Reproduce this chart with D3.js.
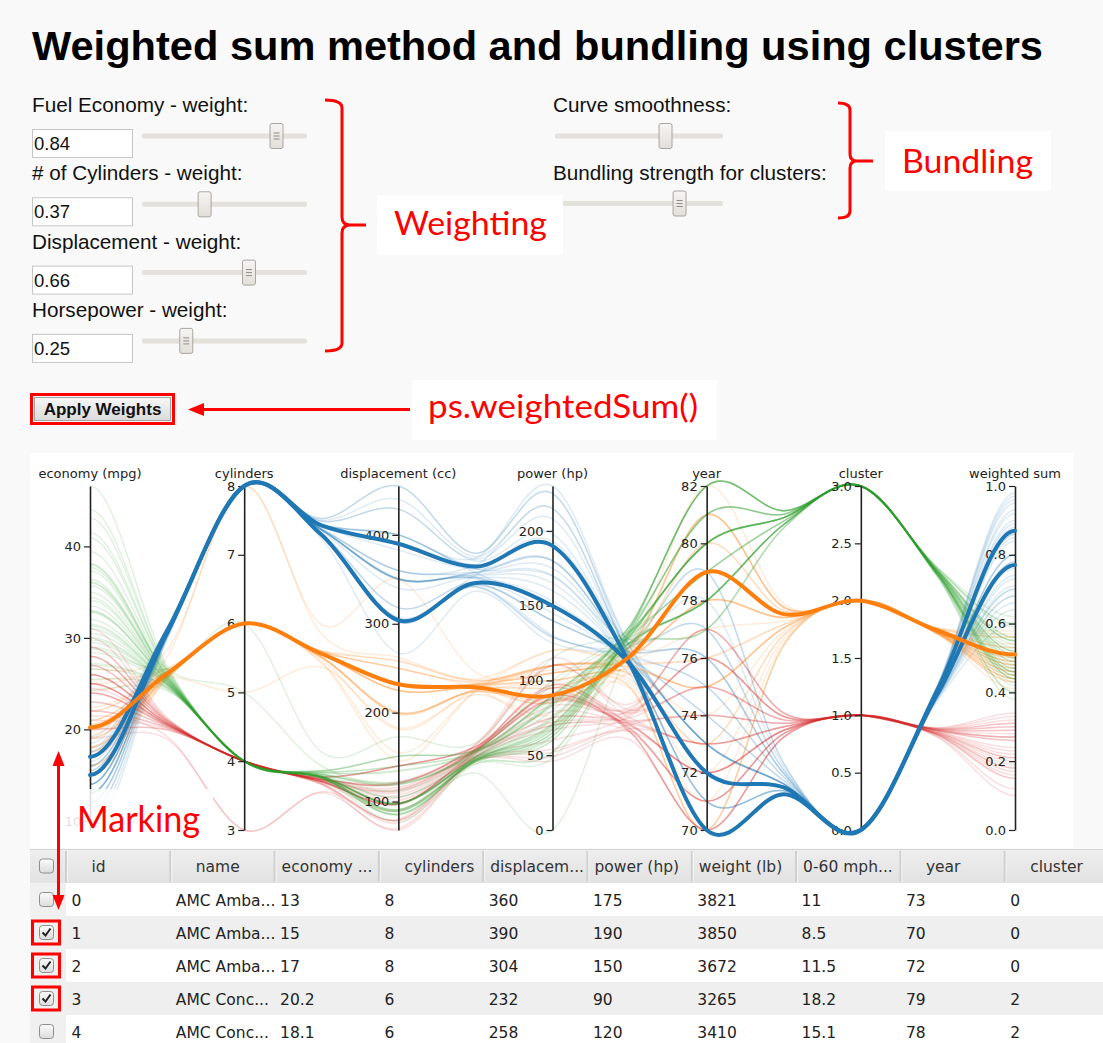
<!DOCTYPE html>
<html><head><meta charset="utf-8">
<script src="https://cdn.jsdelivr.net/npm/d3@7"></script>
<style>
html,body{margin:0;padding:0;background:#f9f9f9;overflow:hidden}
svg{display:block}
</style></head><body>
<svg id="c" width="1103" height="1043"></svg>
<script>
// ---------------- DATA ----------------
const titleText = "Weighted sum method and bundling using clusters";
const weightLabels = ["Fuel Economy - weight:", "# of Cylinders - weight:", "Displacement - weight:", "Horsepower - weight:"];
const weightValues = [0.84, 0.37, 0.66, 0.25];
const bundleLabels = ["Curve smoothness:", "Bundling strength for clusters:"];
const bundleValues = [0.67, 0.76];   // smoothness, bundling strength (slider positions)

const dimNames = ["economy (mpg)", "cylinders", "displacement (cc)", "power (hp)", "year", "cluster", "weighted sum"];

const economy = [13,15,17,20.2,18.1, 14,12,15,16,9,11,13,14,15,16,17.5,18,12,13,14,11,16,15.5,17.6,18.5,13,14,19.2,10,12,16.5,15.5,13,14,
  18,21,19,16,18,20,15,17,19,22,20.5,17.5,19.8,20.6,20,25.4,24.2,22.4,20.2,17.6,19.4,16,21,26.6,22,19.1,25,
  24,27,26,25,28,22,21,26,20,29,24,26,31,23,25,29,22,28,21.5,19,23,27,25,30,24.5,20,26,24,25,28,
  46.6,40.9,36,32,34.1,29,27,31,38,44,33.5,30,28.4,27.2,35.7,32.8,39.4,37.3,26.6,43.1,36.1,31.5,29.8,32.9,34.4,31.3,24.3,28.8,36.4,37.7,33,30.5,25.5,41.5,29.5,35,38.1];
const cylinders = [8,8,8,6,6, 8,8,8,8,8,8,8,8,8,8,8,8,8,8,8,8,8,8,8,8,8,8,8,8,8,8,8,8,8,
  6,6,6,6,6,6,6,6,6,6,6,6,6,6,8,5,6,6,6,6,6,6,6,8,6,6,6,
  4,4,4,4,4,4,4,4,4,4,4,4,4,4,4,4,4,4,3,3,4,4,4,4,4,4,4,4,4,4,
  4,4,4,4,4,4,4,4,4,4,4,4,4,4,4,4,4,4,4,4,4,4,4,4,4,4,4,6,5,4,4,4,4,4,4,4,4];
const displacement = [360,390,304,232,258, 455,455,350,400,304,400,350,318,429,318,305,307,383,440,340,429,351,350,302,360,302,302,267,360,350,350,400,400,351,
  199,200,232,250,225,232,250,231,225,232,231,250,200,231,262,183,146,231,200,225,232,258,155,350,198,225,181,
  113,97,97,110,140,122,120,98,114,68,121,116,76,120,140,90,140,97,80,70,97,101,104,79,98,140,79,107,121,112,
  86,85,98,91,86,135,140,112,105,97,98,98,151,119,98,78,85,91,151,90,91,89,134,119,98,120,151,173,121,89,105,98,140,98,97,122,89];
const power = [175,190,150,90,120, 225,225,165,230,193,150,145,150,198,140,140,130,180,215,160,208,149,170,129,150,129,140,125,215,180,180,190,170,153,
  97,85,100,100,105,100,72,110,95,90,105,110,85,105,110,77,120,110,88,85,90,110,107,105,95,90,110,
  95,88,46,87,90,86,87,79,91,49,110,75,52,97,92,70,72,75,110,97,54,83,95,70,60,90,67,90,115,88,
  65,0,70,67,65,84,86,85,63,52,83,68,90,97,80,52,70,69,84,48,60,71,90,100,65,75,90,115,67,62,74,63,89,76,71,88,60];
const year = [73,70,72,79,78, 70,73,70,73,70,73,73,74,73,76,76,70,71,70,71,72,75,77,79,79,75,74,78,70,73,76,77,71,71,
  70,70,71,72,73,74,75,76,75,76,77,78,79,78,75,81,80,81,81,79,78,75,73,81,70,80,82,
  70,70,70,71,71,72,72,73,73,73,73,74,74,75,76,75,76,77,77,72,72,76,72,71,76,71,74,70,75,77,
  80,80,81,82,80,82,82,82,82,82,77,78,79,78,79,78,78,79,81,78,78,78,80,81,81,80,80,79,80,81,82,77,77,80,78,80,80];
const cluster = [0,0,0,2,2, 0,0,0,0,0,0,0,0,0,0,0,0,0,0,0,0,0,0,0,0,0,0,0,0,0,0,0,0,0,
  2,2,2,2,2,2,2,2,2,2,2,2,2,2,2,2,2,2,2,2,2,2,2,2,2,2,2,
  1,1,1,1,1,1,1,1,1,1,1,1,1,1,1,1,1,1,1,1,1,1,1,1,1,1,1,1,1,1,
  3,3,3,3,3,3,3,3,3,3,3,3,3,3,3,3,3,3,3,3,3,3,3,3,3,3,3,3,3,3,3,3,3,3,3,3,3];
const weightedSum = [0.78,0.87,0.77,0.51,0.56, 0.98,0.96,0.80,0.93,0.89,0.84,0.76,0.74,0.90,0.70,0.66,0.68,0.88,0.95,0.80,0.92,0.73,0.78,0.64,0.70,0.68,0.71,0.60,0.97,0.86,0.80,0.85,0.86,0.77,
  0.48,0.44,0.50,0.53,0.50,0.48,0.49,0.53,0.47,0.45,0.49,0.54,0.43,0.49,0.57,0.41,0.46,0.47,0.43,0.46,0.48,0.56,0.44,0.58,0.45,0.46,0.44,
  0.28,0.23,0.15,0.24,0.26,0.29,0.31,0.21,0.32,0.12,0.34,0.20,0.10,0.30,0.27,0.17,0.26,0.19,0.31,0.29,0.18,0.22,0.27,0.15,0.18,0.30,0.16,0.27,0.33,0.21,
  0.60,0.55,0.52,0.47,0.50,0.46,0.45,0.48,0.56,0.62,0.49,0.44,0.42,0.43,0.52,0.46,0.56,0.54,0.40,0.60,0.52,0.47,0.44,0.50,0.51,0.46,0.38,0.45,0.53,0.55,0.49,0.45,0.40,0.59,0.44,0.51,0.55];

// table-only columns (first rows shown in grid)
const carNames = ["AMC Ambassador Brougham", "AMC Ambassador DPL", "AMC Ambassador SST", "AMC Concord DL 6", "AMC Concord DL"];
const carWeight = [3821, 3850, 3672, 3265, 3410];
const carAccel = [11, 8.5, 11.5, 18.2, 15.1];
const tableHeaders = ["id", "name", "economy ...", "cylinders", "displacem...", "power (hp)", "weight (lb)", "0-60 mph...", "year", "cluster"];
const markedIds = [1, 2, 3];
const clusterColors = ["#1f77b4", "#d62728", "#ff7f0e", "#2ca02c"];

// ---------------- DRAWING ----------------
const svg = d3.select("#c");
const ARIAL = "'Liberation Sans', Arial, sans-serif";
const VERD = "'DejaVu Sans', Verdana, sans-serif";
const CAL = "Lato, 'Open Sans', sans-serif";
const RED = "#ff0000";
const defs = svg.append("defs");
function grad(id, c0, c1){
  const g = defs.append("linearGradient").attr("id",id).attr("x1",0).attr("x2",0).attr("y1",0).attr("y2",1);
  g.append("stop").attr("offset","0%").attr("stop-color",c0);
  g.append("stop").attr("offset","100%").attr("stop-color",c1);
}
grad("thumbG","#f6f5f3","#e2ded9");
grad("btnG","#f7f7f7","#dadada");
grad("hdrG","#eeeeee","#e2e2e2");
grad("cbG","#fbfbfb","#dcdcdc");

// title
svg.append("text").attr("x",32).attr("y",60).attr("font-family",ARIAL).attr("font-weight","bold")
  .attr("font-size",40).attr("textLength",1011).attr("lengthAdjust","spacingAndGlyphs").attr("fill","#000").text(titleText);

function slider(x0, x1, cy, v, grips){
  const s = d3.scaleLinear().domain([0,1]).range([x0+6, x1-6]);
  svg.append("rect").attr("x",x0).attr("y",cy-2.5).attr("width",x1-x0).attr("height",5).attr("rx",2).attr("fill","#e4e0da");
  const tx = s(v);
  svg.append("rect").attr("x",tx-6.5).attr("y",cy-12.5).attr("width",13).attr("height",25).attr("rx",2)
    .attr("fill","url(#thumbG)").attr("stroke","#aaa59e").attr("stroke-width",1);
  if (grips){
    [-3,0,3].forEach(d=>svg.append("line").attr("x1",tx-3).attr("x2",tx+3).attr("y1",cy+d).attr("y2",cy+d)
      .attr("stroke","#8f8b86").attr("stroke-width",1));
  }
}

// weight controls
weightLabels.forEach((lab,i)=>{
  const dy = i*68.3;
  svg.append("text").attr("x",32).attr("y",112+dy).attr("font-family",ARIAL).attr("font-size",20.7).attr("fill","#111").text(lab);
  svg.append("rect").attr("x",32.5).attr("y",129.5+dy).attr("width",100).attr("height",28).attr("fill","#fff").attr("stroke","#c6c6c6");
  svg.append("text").attr("x",34).attr("y",150+dy).attr("font-family",ARIAL).attr("font-size",18.5).attr("fill","#111").text(d3.format(".2f")(weightValues[i]));
  slider(142, 307, 136+dy, weightValues[i], i!==1);
});
// bundling controls
bundleLabels.forEach((lab,i)=>{
  const dy = i*67.5;
  svg.append("text").attr("x",553).attr("y",112+dy).attr("font-family",ARIAL).attr("font-size",20.7).attr("fill","#111").text(lab);
  slider(555, 723, 136+dy, bundleValues[i], i===1);
});

// brackets
const br = svg.append("g").attr("fill","none").attr("stroke",RED).attr("stroke-width",3);
br.append("path").attr("d","M325,100 Q342,100 342,108 L342,217 Q342,225 350,225 M342,233 Q342,225 350,225 L366,225 M342,233 L342,343 Q342,351 325,351");
br.append("path").attr("d","M838,103 Q850,103 850,110 L850,154 Q850,161 857,161 L873,161 M850,168 Q850,161 857,161 M850,168 L850,211 Q850,218 838,218");

function label(x,y,w,h,tx,ty,tl,fs,t){
  svg.append("rect").attr("x",x).attr("y",y).attr("width",w).attr("height",h).attr("fill","#fff");
  svg.append("text").attr("x",tx).attr("y",ty).attr("font-family",CAL).attr("font-size",fs).attr("fill",RED)
    .attr("textLength",tl).attr("lengthAdjust","spacingAndGlyphs").text(t);
}
label(377,195,186,60,394,235,153,32,"Weighting");
label(885,131,166,60,902,173,131,33,"Bundling");
label(412,380,305,60,428,418,270,33,"ps.weightedSum()");

// Apply weights button
svg.append("rect").attr("x",34.5).attr("y",397.5).attr("width",136).attr("height",23).attr("fill","url(#btnG)").attr("stroke","#a3a3a3");
svg.append("text").attr("x",102.5).attr("y",415).attr("text-anchor","middle").attr("font-family",ARIAL).attr("font-weight","bold")
  .attr("font-size",17).attr("fill","#111").text("Apply Weights");
svg.append("rect").attr("x",31.5).attr("y",394.5).attr("width",142).attr("height",29).attr("fill","none").attr("stroke",RED).attr("stroke-width",3);
svg.append("line").attr("x1",410).attr("x2",200).attr("y1",409.5).attr("y2",409.5).attr("stroke",RED).attr("stroke-width",3);
svg.append("path").attr("d","M188,409.5 L204,403 L204,416 Z").attr("fill",RED);

// ---------------- PARALLEL COORDINATES ----------------
svg.append("rect").attr("x",30).attr("y",453).attr("width",1043).attr("height",395).attr("fill","#fff");
const chart = svg.append("g");
const xPos = d3.scalePoint().domain(dimNames).range([90,1015]);
const dimValues = [economy, cylinders, displacement, power, year, cluster, weightedSum];
const yScales = dimValues.map((vals,k)=>d3.scaleLinear().domain(k===6?[0,1]:d3.extent(vals)).range([830,486]));
const N = economy.length;
const clusterIds = [0,1,2,3];
const centroids = clusterIds.map(c=>{
  const idx = d3.range(N).filter(i=>cluster[i]===c);
  return dimValues.map((vals,k)=>d3.mean(idx, i=>yScales[k](vals[i])));
});
const bundling = bundleValues[1];
const smooth = bundleValues[0]*0.25;

function rowPath(i){
  const n = dimNames.length, pts = [];
  for (let k=0;k<n;k++){
    const xk = xPos(dimNames[k]), yk = yScales[k](dimValues[k][i]);
    pts.push([xk,yk]);
    if (k<n-1){
      const xn = xPos(dimNames[k+1]), yn = yScales[k+1](dimValues[k+1][i]);
      const cx = xk + 0.5*(xn-xk);
      let cy = yk + 0.5*(yn-yk);
      const c = cluster[i];
      const cen = 0.5*(centroids[c][k]+centroids[c][k+1]);
      cy = cen + (1-bundling)*(cy-cen);
      pts.push([cx,cy]);
    }
  }
  const a = smooth, m = pts.length;
  const cps = [pts[0], [pts[0][0] + a*2*(pts[1][0]-pts[0][0]), pts[0][1]]];
  for (let j=1;j<m-1;j++){
    const L=pts[j-1], M=pts[j], R=pts[j+1];
    const dx=L[0]-R[0], dy=L[1]-R[1];
    cps.push([M[0]+a*dx, M[1]+a*dy]); cps.push(M); cps.push([M[0]-a*dx, M[1]-a*dy]);
  }
  cps.push([pts[m-1][0] + a*2*(pts[m-2][0]-pts[m-1][0]), pts[m-1][1]]);
  cps.push(pts[m-1]);
  const p = d3.path(); p.moveTo(cps[0][0], cps[0][1]);
  for (let j=1;j<cps.length;j+=3) p.bezierCurveTo(cps[j][0],cps[j][1],cps[j+1][0],cps[j+1][1],cps[j+2][0],cps[j+2][1]);
  return p.toString();
}
const rows = d3.range(N);
chart.append("g").selectAll("path").data(rows.filter(i=>!markedIds.includes(i))).join("path")
  .attr("d",rowPath).attr("fill","none").attr("stroke",i=>clusterColors[cluster[i]])
  .attr("stroke-opacity",0.15).attr("stroke-width",1.5);

// axes
const fmts = [null,null,null,null,null,d3.format(".1f"),d3.format(".1f")];
dimNames.forEach((d,k)=>{
  const ax = chart.append("g").attr("transform",`translate(${xPos(d)},0)`)
    .call(d3.axisLeft(yScales[k]).ticks(5).tickSize(6).tickSizeOuter(0).tickFormat(fmts[k]));
  ax.select(".domain").attr("stroke","#222").attr("stroke-width",1.6);
  ax.selectAll(".tick line").attr("stroke","#222").attr("stroke-width",1.2);
  ax.selectAll(".tick text").attr("font-family",VERD).attr("font-size",13).attr("fill","#222");
  ax.append("text").attr("x",0).attr("y",478).attr("text-anchor","middle").attr("font-family",VERD)
    .attr("font-size",13).attr("fill","#222").text(d);
});

// marked (highlighted) lines
chart.append("g").selectAll("path").data(markedIds).join("path")
  .attr("d",rowPath).attr("fill","none").attr("stroke",i=>clusterColors[cluster[i]])
  .attr("stroke-width",4).attr("stroke-linecap","round");

// Marking annotation
svg.append("rect").attr("x",63).attr("y",789).attr("width",150).attr("height",58).attr("fill","#fff").attr("fill-opacity",0.85);
svg.append("text").attr("x",77).attr("y",832).attr("font-family",CAL).attr("font-size",36).attr("fill",RED)
  .attr("textLength",123).attr("lengthAdjust","spacingAndGlyphs").text("Marking");

// ---------------- TABLE ----------------
const colX = d3.scaleLinear().domain([0,1]).range([66,170.3]);
const tbl = svg.append("g");
tbl.append("rect").attr("x",30).attr("y",849).attr("width",1073).attr("height",34).attr("fill","url(#hdrG)");
tbl.append("line").attr("x1",30).attr("x2",1103).attr("y1",849.5).attr("y2",849.5).attr("stroke","#d4d4d4");
const nRows = carNames.length;
d3.range(nRows).forEach(r=>{
  const y0 = 883 + 33*r;
  tbl.append("rect").attr("x",66).attr("y",y0).attr("width",1037).attr("height",33).attr("fill", r%2 ? "#efefef" : "#ffffff");
  tbl.append("rect").attr("x",30).attr("y",y0).attr("width",36).attr("height",33).attr("fill","#f0f0f0");
});
d3.range(tableHeaders.length+1).forEach(j=>{
  const x = colX(j);
  tbl.append("rect").attr("x",x-1).attr("y",851).attr("width",2).attr("height",31).attr("fill","#cfcfcf");
  tbl.append("rect").attr("x",x+1).attr("y",851).attr("width",1).attr("height",31).attr("fill","#f6f6f6");
});
function fitText(sel, full, maxW){
  sel.text(full);
  if (sel.node().getComputedTextLength() <= maxW) return;
  let s = full;
  while (s.length>1){ s = s.slice(0,-1); sel.text(s+"..."); if (sel.node().getComputedTextLength() <= maxW) return; }
}
tableHeaders.forEach((h,j)=>{
  const t = tbl.append("text").attr("y",872).attr("font-family",VERD).attr("font-size",15.5).attr("fill","#333").text(h);
  const w = t.node().getComputedTextLength();
  t.attr("x", colX(j) + (w > 80 ? 7 : 25.5));
});
function checkbox(cy, checked){
  tbl.append("rect").attr("x",39.5).attr("y",cy-7).attr("width",14).attr("height",14).attr("rx",3)
    .attr("fill","url(#cbG)").attr("stroke","#8e8e8e");
  if (checked) tbl.append("path").attr("d",`M42.5,${cy} L45.5,${cy+3} L50.5,${cy-4}`).attr("fill","none").attr("stroke","#222").attr("stroke-width",2);
}
checkbox(866, false);
d3.range(nRows).forEach(r=>{
  const y0 = 883 + 33*r, cy = y0 + 16.5;
  const isMarked = markedIds.includes(r);
  checkbox(cy, isMarked);
  if (isMarked) tbl.append("rect").attr("x",32.5).attr("y",cy-11.5).attr("width",27).attr("height",23).attr("fill","none").attr("stroke",RED).attr("stroke-width",3);
  const vals = [r, carNames[r], economy[r], cylinders[r], displacement[r], power[r], carWeight[r], carAccel[r], year[r], cluster[r]];
  vals.forEach((v,j)=>{
    const t = tbl.append("text").attr("x",colX(j)+5.5).attr("y",y0+23).attr("font-family",VERD).attr("font-size",15.5).attr("fill","#222");
    fitText(t, String(v), 100);
  });
});

// Marking arrow
svg.append("line").attr("x1",58.5).attr("x2",58.5).attr("y1",764).attr("y2",897).attr("stroke",RED).attr("stroke-width",3);
svg.append("path").attr("d","M58.5,751 L52.5,766 L64.5,766 Z").attr("fill",RED);
svg.append("path").attr("d","M58.5,910 L52.5,895 L64.5,895 Z").attr("fill",RED);
</script>
</body></html>
